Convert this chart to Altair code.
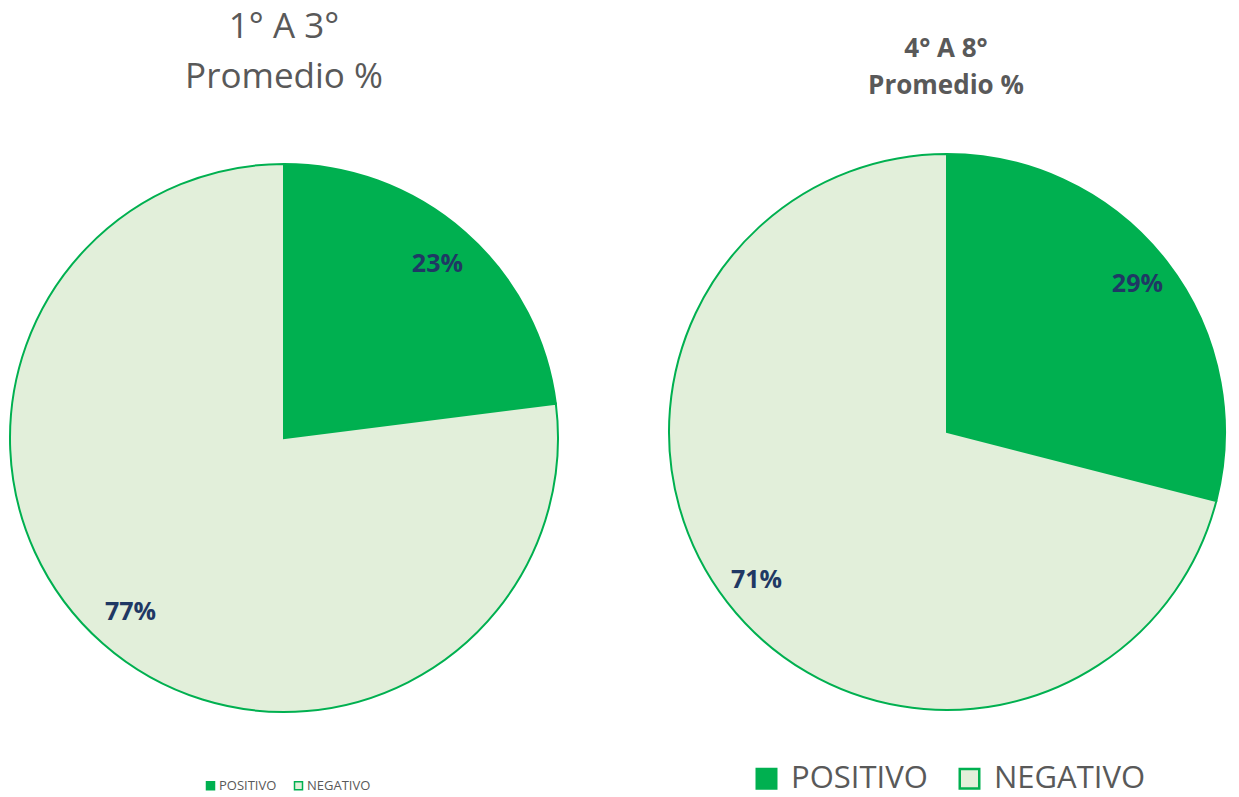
import altair as alt
import pandas as pd

categories = ["POSITIVO", "NEGATIVO"]
left_values = [23, 77]
right_values = [29, 71]
left_title = ["1° A 3°", "Promedio %"]
right_title = ["4° A 8°", "Promedio %"]

GREEN = "#00B050"
LIGHT = "#E2EFDA"
NAVY = "#1F3864"
GRAY = "#595959"
FONT = "Open Sans"


def frame(values):
    return pd.DataFrame({
        "category": categories,
        "value": values,
        "order": list(range(len(values))),
        "label": [f"{v}%" for v in values],
    })


df_left = frame(left_values)
df_right = frame(right_values)


def pie(df, cx, cy, r, label_r, legend):
    arc = alt.Chart(df).mark_arc(outerRadius=r, stroke=GREEN, strokeWidth=2).encode(
        theta=alt.Theta("value:Q", stack=True),
        color=alt.Color("category:N",
                        scale=alt.Scale(domain=categories, range=[GREEN, LIGHT]),
                        sort=categories, legend=legend),
        order=alt.Order("order:Q"),
        x=alt.value(cx), y=alt.value(cy),
    )
    txt = alt.Chart(df).mark_text(radius=label_r, font=FONT, fontSize=25,
                                  fontWeight="bold", color=NAVY).encode(
        theta=alt.Theta("value:Q", stack=True),
        order=alt.Order("order:Q"),
        text="label:N",
        x=alt.value(cx), y=alt.value(cy),
    )
    return arc, txt


legend_left = alt.Legend(orient="none", legendX=196, legendY=771, direction="horizontal",
                         title=None, symbolType="square", symbolSize=64,
                         symbolStrokeColor=GREEN, symbolStrokeWidth=1.5,
                         labelFont=FONT, labelFontSize=13, labelColor=GRAY,
                         labelOffset=2, columnPadding=14, labelLimit=200)
legend_right = alt.Legend(orient="none", legendX=743, legendY=755, direction="horizontal",
                          title=None, symbolType="square", symbolSize=380,
                          symbolStrokeColor=GREEN, symbolStrokeWidth=2.5,
                          labelFont=FONT, labelFontSize=31, labelColor=GRAY,
                          labelOffset=9, columnPadding=26, labelLimit=400)

arc_l, txt_l = pie(df_left, 276, 430, 274, 232, legend_left)
arc_r, txt_r = pie(df_right, 939, 424, 278, 241, legend_right)

tl = pd.DataFrame({"t": left_title, "i": [0, 1]})
tr = pd.DataFrame({"t": right_title, "i": [0, 1]})

title_l1 = alt.Chart(tl.iloc[[0]]).mark_text(font=FONT, fontSize=35, color=GRAY, baseline="alphabetic").encode(
    text="t:N", x=alt.value(276), y=alt.value(30))
title_l2 = alt.Chart(tl.iloc[[1]]).mark_text(font=FONT, fontSize=35, color=GRAY, baseline="alphabetic").encode(
    text="t:N", x=alt.value(276), y=alt.value(80))
title_r1 = alt.Chart(tr.iloc[[0]]).mark_text(font=FONT, fontSize=26, fontWeight="bold", color=GRAY).encode(
    text="t:N", x=alt.value(938), y=alt.value(41))
title_r2 = alt.Chart(tr.iloc[[1]]).mark_text(font=FONT, fontSize=26, fontWeight="bold", color=GRAY).encode(
    text="t:N", x=alt.value(938), y=alt.value(78))

chart = alt.layer(arc_l, arc_r, txt_l, txt_r, title_l1, title_l2, title_r1, title_r2).resolve_scale(
    color="independent", theta="independent"
).properties(
    width=1223, height=789, padding=0,
    autosize=alt.AutoSizeParams(type="none"),
).configure_view(stroke=None)

chart.save("out.html", embed_options={"renderer": "svg", "actions": False})
